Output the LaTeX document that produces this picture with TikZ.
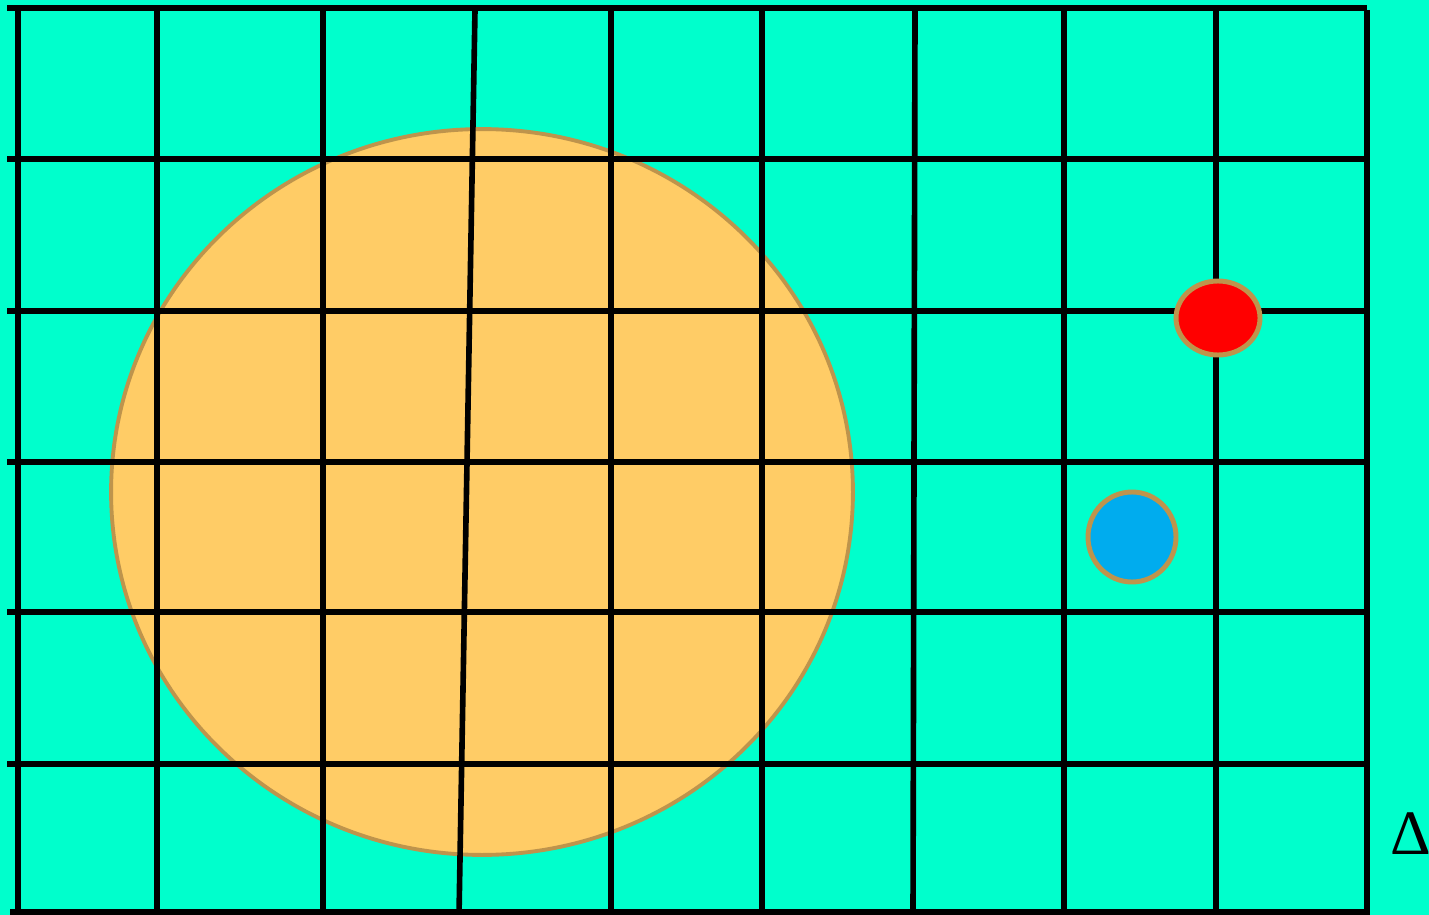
\documentclass[tikz,border=0pt]{standalone}
\usepackage{fontspec}
\setmainfont{Liberation Serif}
\usepackage{tikz}
\usetikzlibrary{shapes.geometric}

\definecolor{sea}{RGB}{0,255,204}
\definecolor{sand}{RGB}{255,204,102}
\definecolor{rim}{RGB}{190,148,76}
\definecolor{sky}{RGB}{0,172,238}

\begin{document}
\begin{tikzpicture}[x=0.02cm, y=-0.02cm,
  gridline/.style={line width=3.2pt, black},
  disc/.style={ellipse, draw=rim, inner sep=0pt},
  lbl/.style={font=\fontsize{36}{40}\selectfont, inner sep=0pt}]
\useasboundingbox (0,0) rectangle (1429,915);
\fill[sea] (0,0) rectangle (1429,915);
\node[disc, fill=sand, line width=2.2pt, minimum width=14.84cm, minimum height=14.52cm] (spot) at (482,492) {};
% grid
\foreach \y in {8,159,311,462,612,764}
  \draw[gridline] (7,\y) -- (1367,\y);
\draw[gridline] (10,912) -- (1367,912);
\foreach \xa/\xb in {18/18,157/157,323/323,475/459,611/611,762/762,915/913,1064/1064,1216/1216,1367/1367}
  \draw[gridline] (\xa,10) -- (\xb,915);
\node[disc, fill=red, line width=2.8pt, minimum width=1.68cm, minimum height=1.48cm] (hot) at (1218,318) {};
\node[disc, fill=sky, line width=2.8pt, minimum width=1.76cm, minimum height=1.8cm] (cold) at (1132,537) {};
\node[lbl] (delta) at (1411,834) {Δ};
\end{tikzpicture}
\end{document}
